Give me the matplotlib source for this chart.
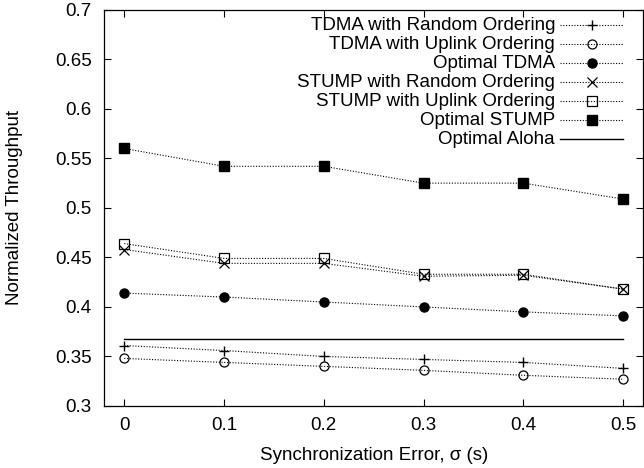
import matplotlib
matplotlib.use('Agg')
import matplotlib.pyplot as plt

plt.rcParams['font.family'] = ['Liberation Sans', 'DejaVu Sans']

sigma = [0.0, 0.1, 0.2, 0.3, 0.4, 0.5]
tdma_random = [0.361, 0.356, 0.350, 0.347, 0.344, 0.338]
tdma_uplink = [0.348, 0.344, 0.340, 0.336, 0.331, 0.327]
tdma_optimal = [0.414, 0.410, 0.405, 0.400, 0.395, 0.391]
stump_random = [0.458, 0.444, 0.444, 0.431, 0.432, 0.418]
stump_uplink = [0.464, 0.449, 0.449, 0.433, 0.433, 0.418]
stump_optimal = [0.560, 0.542, 0.542, 0.525, 0.525, 0.509]
aloha_optimal = [0.368, 0.368, 0.368, 0.368, 0.368, 0.368]

labels = ['TDMA with Random Ordering', 'TDMA with Uplink Ordering', 'Optimal TDMA',
          'STUMP with Random Ordering', 'STUMP with Uplink Ordering', 'Optimal STUMP',
          'Optimal Aloha']

FS = 13.5
fig = plt.figure(figsize=(6.44, 4.68), dpi=100)
ax = fig.add_axes([0.162, 0.1325, 0.8365, 0.8465])

dot = (0, (1, 1.5))
common = dict(color='black', linestyle=dot, linewidth=0.8, markersize=6.5)
styles = [
    dict(marker='+', markeredgewidth=1.0, **common),
    dict(marker='o', markerfacecolor='none', markeredgewidth=0.9, **common),
    dict(marker='o', **common),
    dict(marker='x', markeredgewidth=0.9, **common),
    dict(marker='s', markerfacecolor='none', markeredgewidth=0.9, **common),
    dict(marker='s', **common),
    dict(color='black', linewidth=1.0),
]
series = [tdma_random, tdma_uplink, tdma_optimal, stump_random, stump_uplink,
          stump_optimal, aloha_optimal]

for vals, st in zip(series, styles):
    ax.plot(sigma, vals, **st)

ax.set_xlim(-0.02, 0.52)
ax.set_ylim(0.3, 0.7)
ax.set_xticks(sigma)
ax.set_xticklabels(['0', '0.1', '0.2', '0.3', '0.4', '0.5'])
ax.set_yticks([0.3, 0.35, 0.4, 0.45, 0.5, 0.55, 0.6, 0.65, 0.7])
ax.set_yticklabels(['0.3', '0.35', '0.4', '0.45', '0.5', '0.55', '0.6', '0.65', '0.7'])
ax.tick_params(direction='in', length=4.8, width=0.8, top=True, right=True, labelsize=FS)
ax.tick_params(axis='y', pad=9)
ax.tick_params(axis='x', pad=8)
for s in ax.spines.values():
    s.set_linewidth(0.9)

ax.set_xlabel('Synchronization Error, σ (s)', fontsize=FS, va='center')
ax.xaxis.set_label_coords(0.5, -0.124)
ax.set_ylabel('Normalized Throughput', fontsize=FS, va='center')
ax.yaxis.set_label_coords(-0.166, 0.5)

# gnuplot style key: right-aligned text, sample to the right
def px_x(p):
    return (p - 104.3) / 538.7

def px_y(p):
    return (406 - p) / 396.3

for i, (lab, st) in enumerate(zip(labels, styles)):
    yy = px_y(25 + 19 * i)
    ax.text(px_x(555), yy, lab, ha='right', va='center', fontsize=FS,
            transform=ax.transAxes)
    ax.plot([px_x(560), px_x(591.5), px_x(623)], [yy, yy, yy], transform=ax.transAxes,
            clip_on=False, markevery=[1], **st)

fig.savefig('out.png', dpi=100)
